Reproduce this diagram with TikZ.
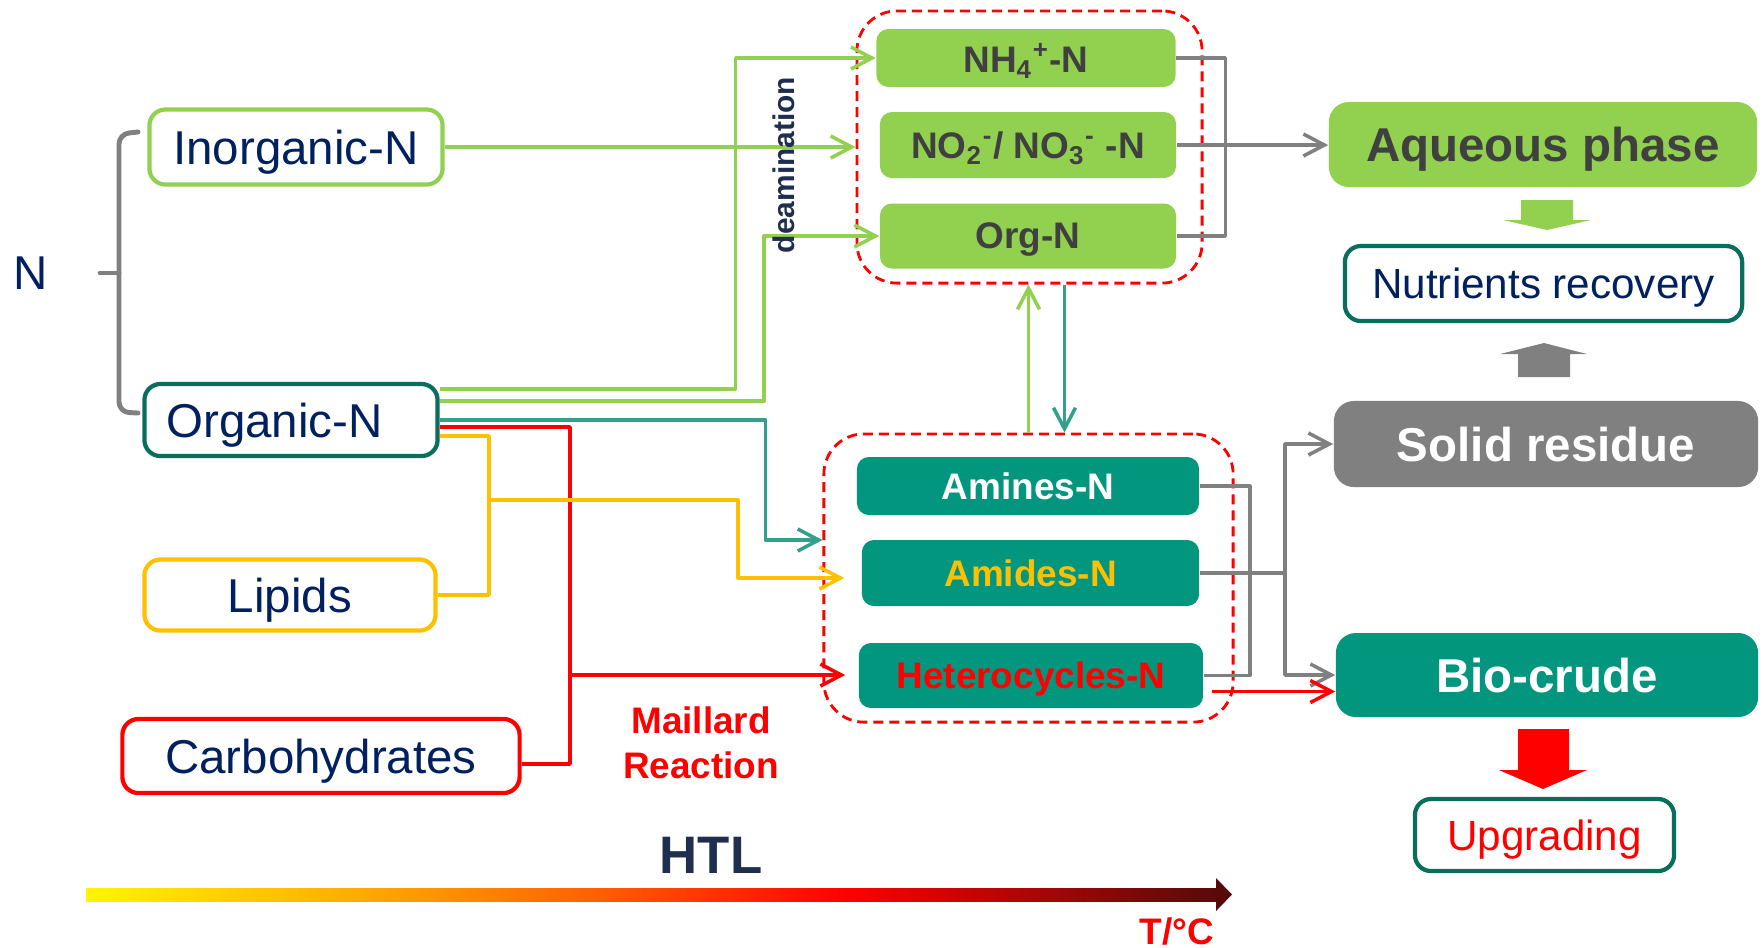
\documentclass[tikz,border=0pt]{standalone}
\usepackage{fontspec}
\setmainfont{Liberation Sans}
\usetikzlibrary{arrows.meta,calc,positioning}
\definecolor{FigGreen}{HTML}{92D050}
\definecolor{FigTeal}{HTML}{03967F}
\definecolor{FigTealLine}{HTML}{33A08C}
\definecolor{FigDark}{HTML}{0A6E5C}
\definecolor{FigYellow}{HTML}{FFC000}
\definecolor{FigRed}{HTML}{FF0000}
\definecolor{FigNavy}{HTML}{002060}
\definecolor{FigInk}{HTML}{1F2D4E}
\definecolor{FigGray}{HTML}{808080}
\definecolor{FigText}{HTML}{404040}
\definecolor{HeatA}{HTML}{FFF500}
\definecolor{HeatB}{HTML}{FFA800}
\definecolor{HeatC}{HTML}{FF6000}
\definecolor{HeatD}{HTML}{FF0000}
\definecolor{HeatE}{HTML}{580A0A}
\pgfdeclarehorizontalshading{heatbar}{100bp}{color(0bp)=(HeatA); color(25bp)=(HeatA); color(37.5bp)=(HeatB); color(47.5bp)=(HeatC); color(58.5bp)=(HeatD); color(75bp)=(HeatE); color(100bp)=(HeatE)}

\begin{document}
\begin{tikzpicture}[x=0.01cm,y=-0.01cm,line join=round,
  srcbox/.style={draw,line width=1.2pt,rounded corners=1.6mm,inner sep=0pt,text depth=0pt,text=FigNavy,font=\fontsize{13.5}{16}\selectfont},
  specbox/.style={fill=#1,rounded corners=1.2mm,inner sep=0pt,text depth=0pt,font=\bfseries\fontsize{10.5}{12}\selectfont},
  phasebox/.style={rounded corners=2mm,inner sep=0pt,text depth=0pt,font=\bfseries\fontsize{13.5}{16}\selectfont},
  outbox/.style={draw=FigDark,line width=1.2pt,rounded corners=1.6mm,inner sep=0pt,text depth=0pt,font=\fontsize{12}{14}\selectfont},
  grp/.style={draw=FigRed,dash pattern=on 1mm off 0.6mm,line width=0.8pt,rounded corners=4mm,inner sep=0pt},
  wire/.style={line width=1pt},
  flow/.style={-{Straight Barb[length=2.1mm,width=2.2mm]}}]
  \useasboundingbox (0,0) rectangle (1764,947);
  % sources
  \node[text=FigNavy,font=\fontsize{13.5}{16}\selectfont] (ntot) at (31,273) {N};
  \draw[FigGray,line width=1.4pt,line cap=round,rounded corners=1mm] (138,132) -- (119,134) -- (119,412) -- (138,413);
  \draw[FigGray,line width=1.4pt,line cap=round] (100,273) -- (119,273);
  \node[srcbox,draw=FigGreen,minimum width=2.93cm,minimum height=0.75cm] (inorg) at (296,147) {Inorganic-N};
  \node[srcbox,draw=FigDark,minimum width=2.93cm,minimum height=0.72cm] (org) at (291,420) {Organic-N\hspace*{0.33cm}};
  \node[srcbox,draw=FigYellow,minimum width=2.91cm,minimum height=0.71cm] (lipids) at (290,595) {Lipids};
  \node[srcbox,draw=FigRed,minimum width=3.97cm,minimum height=0.74cm] (carbo) at (321,756) {Carbohydrates};
  % species groups
  \node[grp,minimum width=3.45cm,minimum height=2.72cm] (topgrp) at (1029.5,147) {};
  \node[specbox=FigGreen,text=FigText,minimum width=2.99cm,minimum height=0.58cm] (nh4) at (1026,58) {NH\textsubscript{4}\textsuperscript{+}-N};
  \node[specbox=FigGreen,text=FigText,minimum width=2.96cm,minimum height=0.66cm] (no) at (1028,145) {NO\textsubscript{2}\textsuperscript{-}/ NO\textsubscript{3}\textsuperscript{-} -N};
  \node[specbox=FigGreen,text=FigText,minimum width=2.96cm,minimum height=0.65cm] (orgn) at (1028,236) {Org-N};
  \node[grp,minimum width=4.09cm,minimum height=2.88cm] (botgrp) at (1028.5,578) {};
  \node[specbox=FigTeal,text=white,minimum width=3.42cm,minimum height=0.58cm] (amines) at (1028,486) {Amines-N};
  \node[specbox=FigTeal,text=FigYellow,minimum width=3.37cm,minimum height=0.66cm] (amides) at (1030.5,573) {Amides-N};
  \node[specbox=FigTeal,text=FigRed,minimum width=3.44cm,minimum height=0.65cm] (hetero) at (1031,675.5) {Heterocycles-N};
  % products
  \node[phasebox,fill=FigGreen,text=FigText,minimum width=4.28cm,minimum height=0.85cm] (aqueous) at (1543,144.5) {Aqueous phase};
  \node[outbox,text=FigNavy,minimum width=3.97cm,minimum height=0.75cm] (nutrients) at (1543.5,283.5) {Nutrients recovery};
  \node[phasebox,fill=FigGray,text=white,minimum width=4.24cm,minimum height=0.86cm] (solid) at (1546,444) {Solid residue};
  \node[phasebox,fill=FigTeal,text=white,minimum width=4.22cm,minimum height=0.84cm] (biocrude) at (1547,675) {Bio-crude};
  \node[outbox,text=FigRed,minimum width=2.59cm,minimum height=0.72cm] (upgrading) at (1544.5,835) {Upgrading};
  \fill[FigGreen] (1521,200) -- (1573,200) -- (1573,220) -- (1591,220) -- (1547,230) -- (1503,220) -- (1521,220) -- cycle;
  \fill[FigGray] (1518,377) -- (1570,377) -- (1570,354) -- (1587,354) -- (1544,343) -- (1500,354) -- (1518,354) -- cycle;
  \fill[FigRed] (1518,729) -- (1569,729) -- (1569,770) -- (1587,770) -- (1543,789) -- (1499,770) -- (1518,770) -- cycle;
  % flows
  \draw[wire,FigGreen,flow] (inorg.east) -- (inorg.east -| topgrp.west);
  \draw[wire,FigGreen,flow] ($(org.east)+(0,-31)$) -| ($(nh4.west)+(-140,0)$) -- (nh4.west);
  \draw[wire,FigGreen,flow] ($(org.east)+(0,-19)$) -| ($(orgn.west)+(-115,0)$) -- (orgn.west);
  \draw[wire,FigTealLine,flow] (org.east) -| ($(botgrp.west)+(-57,-38)$) -- ($(botgrp.west)+(0,-38)$);
  \coordinate (rj) at (570,675);
  \draw[wire,FigRed] ($(org.east)+(0,7)$) -| (rj) |- ($(carbo.east)+(0,8)$);
  \draw[wire,FigRed,flow] (rj) -- ($(rj -| hetero.west)+(-13,0)$);
  \coordinate (yj) at (489,500);
  \draw[wire,FigYellow] ($(org.east)+(0,16)$) -| (yj) |- (lipids.east);
  \draw[wire,FigYellow,flow] (yj) -| ($(amides.west)+(-123,5)$) -- ($(amides.west)+(-17,5)$);
  \draw[wire,FigGreen,flow] (botgrp.north) -- (botgrp.north |- topgrp.south);
  \draw[wire,FigTealLine,flow] ($(botgrp.north)+(36,-148)$) -- ($(botgrp.north)+(36,0)$);
  \draw[wire,FigGray] (nh4.east) -- ++(49,0) |- (orgn.east);
  \draw[wire,FigGray,flow] (no.east) -- (no.east -| aqueous.west);
  \draw[wire,FigGray] (amines.east) -- ++(50,0) |- (hetero.east);
  \coordinate (gj) at (1285,573);
  \draw[wire,FigGray] (amides.east) -- (gj);
  \draw[wire,FigGray,flow] (gj) |- (solid.west);
  \draw[wire,FigGray,flow] (gj) |- (biocrude.west);
  \coordinate (hr) at ($(hetero.east)+(8,16)$);
  \draw[wire,FigRed,flow] (hr) -- (hr -| biocrude.west);
  % labels
  \node[rotate=90,text=FigInk,font=\bfseries\fontsize{8.5}{10}\selectfont] (deam) at (784,165) {deamination};
  \node[align=center,text=FigRed,font=\bfseries\fontsize{10.5}{12.8}\selectfont] (maillard) at (701,743) {Maillard\\Reaction};
  \node[text=FigInk,font=\bfseries\fontsize{15}{18}\selectfont] (htl) at (711,855) {HTL};
  \shade[shading=heatbar] (86,888) rectangle (1217,901);
  \fill[HeatE] (1216,878) -- (1232,894.5) -- (1216,911) -- cycle;
  \node[text=FigRed,font=\bfseries\fontsize{10.5}{12}\selectfont] (temp) at (1177,931) {T/°C};
\end{tikzpicture}
\end{document}
